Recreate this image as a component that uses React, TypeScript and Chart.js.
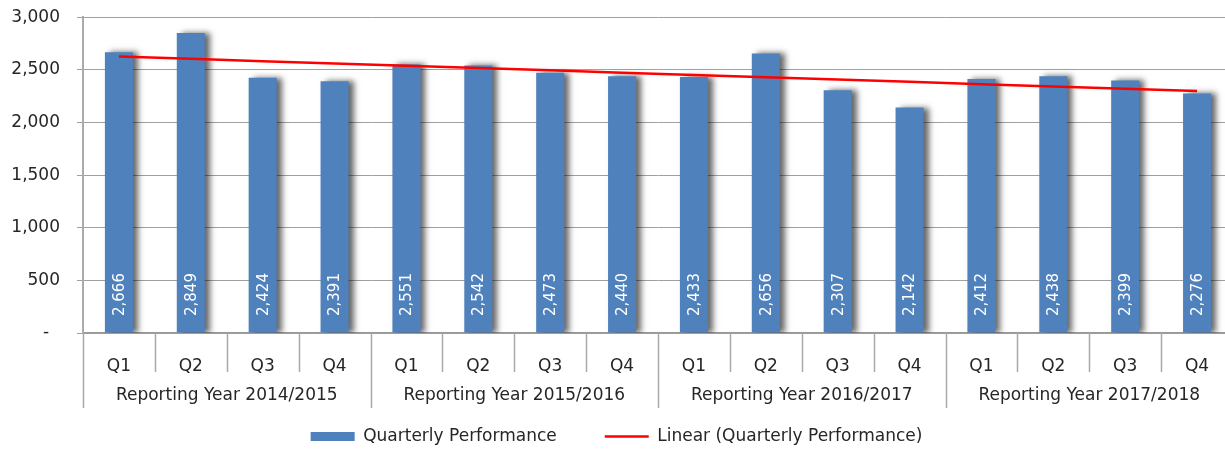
import React, { useEffect, useRef } from 'react';
import { Chart, registerables } from 'chart.js';

Chart.register(...registerables);

const quarters = ['Q1', 'Q2', 'Q3', 'Q4', 'Q1', 'Q2', 'Q3', 'Q4', 'Q1', 'Q2', 'Q3', 'Q4', 'Q1', 'Q2', 'Q3', 'Q4'];
const years = ['Reporting Year 2014/2015', 'Reporting Year 2015/2016', 'Reporting Year 2016/2017', 'Reporting Year 2017/2018'];
const performance = [2666, 2849, 2424, 2391, 2551, 2542, 2473, 2440, 2433, 2656, 2307, 2142, 2412, 2438, 2399, 2276];
const seriesNames = ['Quarterly Performance', 'Linear (Quarterly Performance)'];
const yMin = 0;
const yMax = 3000;
const yStep = 500;

// Excel-style linear trendline (least squares) of the series
function linearTrend(values: number[]): number[] {
  const n = values.length;
  let sx = 0, sy = 0, sxy = 0, sxx = 0;
  values.forEach((v, i) => { sx += i; sy += v; sxy += i * v; sxx += i * i; });
  const slope = (n * sxy - sx * sy) / (n * sxx - sx * sx);
  const icpt = (sy - slope * sx) / n;
  return values.map((_, i) => icpt + slope * i);
}

const FONT = 'DejaVu Sans';
const TEXT = '#262626';
const BAR = '#4F81BD';

const fmt = (v: number) => v.toLocaleString('en-US');

const decorPlugin = {
  id: 'decor',
  beforeDatasetDraw(chart: any, args: any) {
    if (args.index === 0) {
      const ctx = chart.ctx;
      ctx.save();
      ctx.shadowColor = 'rgba(0,0,0,0.6)';
      ctx.shadowOffsetX = 5;
      ctx.shadowOffsetY = 0;
      ctx.shadowBlur = 6;
    }
  },
  afterDatasetDraw(chart: any, args: any) {
    if (args.index === 0) chart.ctx.restore();
  },
  afterDatasetsDraw(chart: any) {
    const ctx = chart.ctx;
    const meta = chart.getDatasetMeta(0);
    const data = chart.data.datasets[0].data as number[];
    const bottom = chart.chartArea.bottom;
    ctx.save();
    ctx.fillStyle = '#ffffff';
    ctx.font = `15px "${FONT}"`;
    ctx.textAlign = 'left';
    ctx.textBaseline = 'middle';
    meta.data.forEach((el: any, i: number) => {
      ctx.save();
      ctx.translate(el.x, bottom - 17);
      ctx.rotate(-Math.PI / 2);
      ctx.fillText(fmt(data[i]), 0, 1);
      ctx.restore();
    });
    ctx.restore();
  },
  afterDraw(chart: any) {
    const ctx = chart.ctx;
    const xs = chart.scales.x;
    const n = quarters.length;
    const w = (xs.right - xs.left) / n;
    const bottom = chart.chartArea.bottom;
    ctx.save();
    ctx.strokeStyle = '#a8a8a8';
    ctx.lineWidth = 1.5;
    for (let i = 0; i <= n; i++) {
      const x = Math.round(xs.left + i * w) + 0.5;
      const len = i % 4 === 0 ? 75 : 39;
      ctx.beginPath();
      ctx.moveTo(x, bottom);
      ctx.lineTo(x, bottom + len);
      ctx.stroke();
    }
    ctx.fillStyle = TEXT;
    ctx.font = `17px "${FONT}"`;
    ctx.textAlign = 'center';
    ctx.textBaseline = 'middle';
    years.forEach((y, g) => {
      ctx.fillText(y, xs.left + (g * 4 + 2) * w, bottom + 63);
    });
    ctx.restore();
  },
};

export default function App() {
  const ref = useRef<HTMLCanvasElement | null>(null);
  useEffect(() => {
    if (!ref.current) return;
    Chart.defaults.font.family = FONT;
    const trend = linearTrend(performance);
    const chart = new Chart(ref.current, {
      type: 'bar',
      data: {
        labels: quarters,
        datasets: [
          {
            type: 'bar',
            label: seriesNames[0],
            data: performance,
            backgroundColor: BAR,
            borderWidth: 0,
            barPercentage: 0.39,
            categoryPercentage: 1,
            order: 1,
          },
          {
            type: 'line',
            label: seriesNames[1],
            data: trend,
            borderColor: '#FF0000',
            borderWidth: 2.5,
            pointRadius: 0,
            tension: 0,
            fill: false,
            order: 0,
          } as any,
        ],
      },
      options: {
        responsive: false,
        animation: false,
        layout: { padding: { top: 7, right: 7, left: 0, bottom: 0 } },
        plugins: {
          tooltip: { enabled: false },
          legend: {
            position: 'bottom',
            labels: {
              usePointStyle: true,
              pointStyleWidth: 44,
              boxHeight: 9,
              padding: 48,
              color: TEXT,
              font: { size: 17, family: FONT },
              generateLabels: () => [
                { text: seriesNames[0], fillStyle: BAR, strokeStyle: BAR, lineWidth: 0, pointStyle: 'rect', datasetIndex: 0, hidden: false, fontColor: TEXT },
                { text: seriesNames[1], fillStyle: '#FF0000', strokeStyle: '#FF0000', lineWidth: 2.5, pointStyle: 'line', datasetIndex: 1, hidden: false, fontColor: TEXT },
              ] as any,
            },
          },
        },
        scales: {
          x: {
            grid: { display: false },
            border: { display: true, color: '#999999', width: 1.5 },
            ticks: { color: TEXT, font: { size: 17, family: FONT }, padding: 15, maxRotation: 0, autoSkip: false },
            afterFit: (s: any) => { s.height = 47; },
          },
          y: {
            min: yMin,
            max: yMax,
            grid: { color: '#a0a0a0', lineWidth: 1, tickLength: 6, drawTicks: true },
            border: { display: true, color: '#aaaaaa', width: 2 },
            ticks: {
              stepSize: yStep,
              color: TEXT,
              padding: 17,
              font: { size: 17, family: FONT },
              callback: (v: any) => (Number(v) === 0 ? '-  ' : fmt(Number(v))),
            },
            afterFit: (s: any) => { s.width = 83; },
          },
        },
      },
      plugins: [decorPlugin],
    });
    return () => chart.destroy();
  }, []);
  return (
    <div style={{ position: 'fixed', left: 0, top: 0, width: 1225, height: 450, overflow: 'hidden', background: '#fff' }}>
      <canvas ref={ref} width={1240} height={465} style={{ display: 'block', marginTop: -10 }} />
    </div>
  );
}
